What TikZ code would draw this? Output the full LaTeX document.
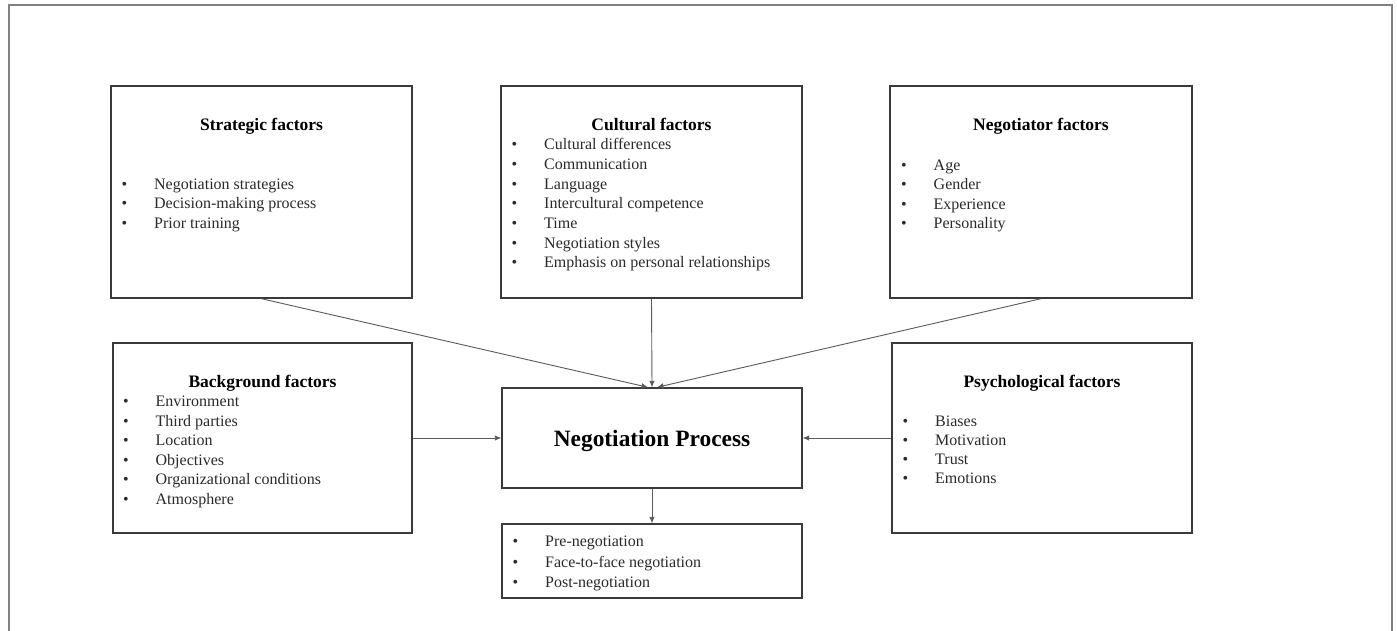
\documentclass[tikz,border=0pt]{standalone}
\usepackage{fontspec}
\setmainfont{Liberation Serif}
\usetikzlibrary{calc,arrows.meta}
\definecolor{boxc}{HTML}{3A3A3A}
\definecolor{arrc}{HTML}{5A5A5A}
\definecolor{framec}{HTML}{808080}
\definecolor{txtc}{HTML}{2A2A2A}
\newcommand{\bitem}[1]{\makebox[32.5pt][l]{\textbullet}#1}
\begin{document}
\begin{tikzpicture}[x=1pt,y=-1pt,
  box/.style={draw=boxc, line width=1.4pt, inner sep=0pt, fill=white},
  ttl/.style={font=\bfseries\fontsize{17.5}{21}\selectfont, text=black, anchor=base, inner sep=0pt},
  bigttl/.style={font=\bfseries\fontsize{23.4}{28}\selectfont, text=black, anchor=base, inner sep=0pt},
  item/.style={font=\fontsize{16}{19}\selectfont, text=txtc, anchor=base west, inner sep=0pt},
  arr/.style={draw=arrc, line width=0.9pt, -{Latex[length=6.5pt,width=5.5pt]}},
  frame/.style={draw=framec, line width=1.2pt}]
\useasboundingbox (0,0) rectangle (1397,631);
\fill[white] (0,0) rectangle (1397,631);
\draw[frame] (9,631) -- (9,5) -- (1392,5) -- (1392,631);

% boxes
\node[box, minimum width=301pt, minimum height=212pt] (strat) at (261.5,192) {};
\node[box, minimum width=301pt, minimum height=212pt] (cult) at (651.5,192) {};
\node[box, minimum width=302pt, minimum height=212pt] (negot) at (1041,192) {};
\node[box, minimum width=299pt, minimum height=190pt] (backg) at (262.5,438) {};
\node[box, minimum width=300pt, minimum height=190pt] (psych) at (1042,438) {};
\node[box, minimum width=300pt, minimum height=100pt] (proc) at (652,438) {};
\node[box, minimum width=300pt, minimum height=74pt] (outc) at (652,561) {};

% titles
\node[ttl] (stratT) at (261.5,130.5) {Strategic factors};
\node[ttl] (cultT) at (651.5,131) {Cultural factors};
\node[ttl] (negotT) at (1041,130.5) {Negotiator factors};
\node[ttl] (backgT) at (262.5,387.5) {Background factors};
\node[ttl] (psychT) at (1042,387.5) {Psychological factors};
\node[bigttl] (procT) at (652,446) {Negotiation Process};

% items
\foreach \t [count=\i] in {Negotiation strategies, Decision-making process, Prior training}
  \node[item] (s\i) at (121.5,{170.2+19.3*\i}) {\bitem{\t}};
\foreach \t [count=\i] in {Cultural differences, Communication, Language, Intercultural competence, Time, Negotiation styles, Emphasis on personal relationships}
  \node[item] (c\i) at (511.5,{130.3+19.67*\i}) {\bitem{\t}};
\foreach \t [count=\i] in {Age, Gender, Experience, Personality}
  \node[item] (n\i) at (901,{151.1+19.4*\i}) {\bitem{\t}};
\foreach \t [count=\i] in {Environment, Third parties, Location, Objectives, Organizational conditions, Atmosphere}
  \node[item] (b\i) at (123,{386.9+19.6*\i}) {\bitem{\t}};
\foreach \t [count=\i] in {Biases, Motivation, Trust, Emotions}
  \node[item] (p\i) at (902.5,{407.5+19*\i}) {\bitem{\t}};
\foreach \t [count=\i] in {Pre-negotiation, Face-to-face negotiation, Post-negotiation}
  \node[item] (o\i) at (512.5,{526+20.5*\i}) {\bitem{\t}};

% connectors
\draw[arr] (strat.south) -- ($(proc.north)+(-4,0)$);
\draw[arr] (cult.south) -- (proc.north);
\draw[arr] (negot.south) -- ($(proc.north)+(5,0)$);
\draw[arr] (backg.east) -- (proc.west);
\draw[arr] (psych.west) -- (proc.east);
\draw[arr] (proc.south) -- (outc.north);
\end{tikzpicture}
\end{document}
